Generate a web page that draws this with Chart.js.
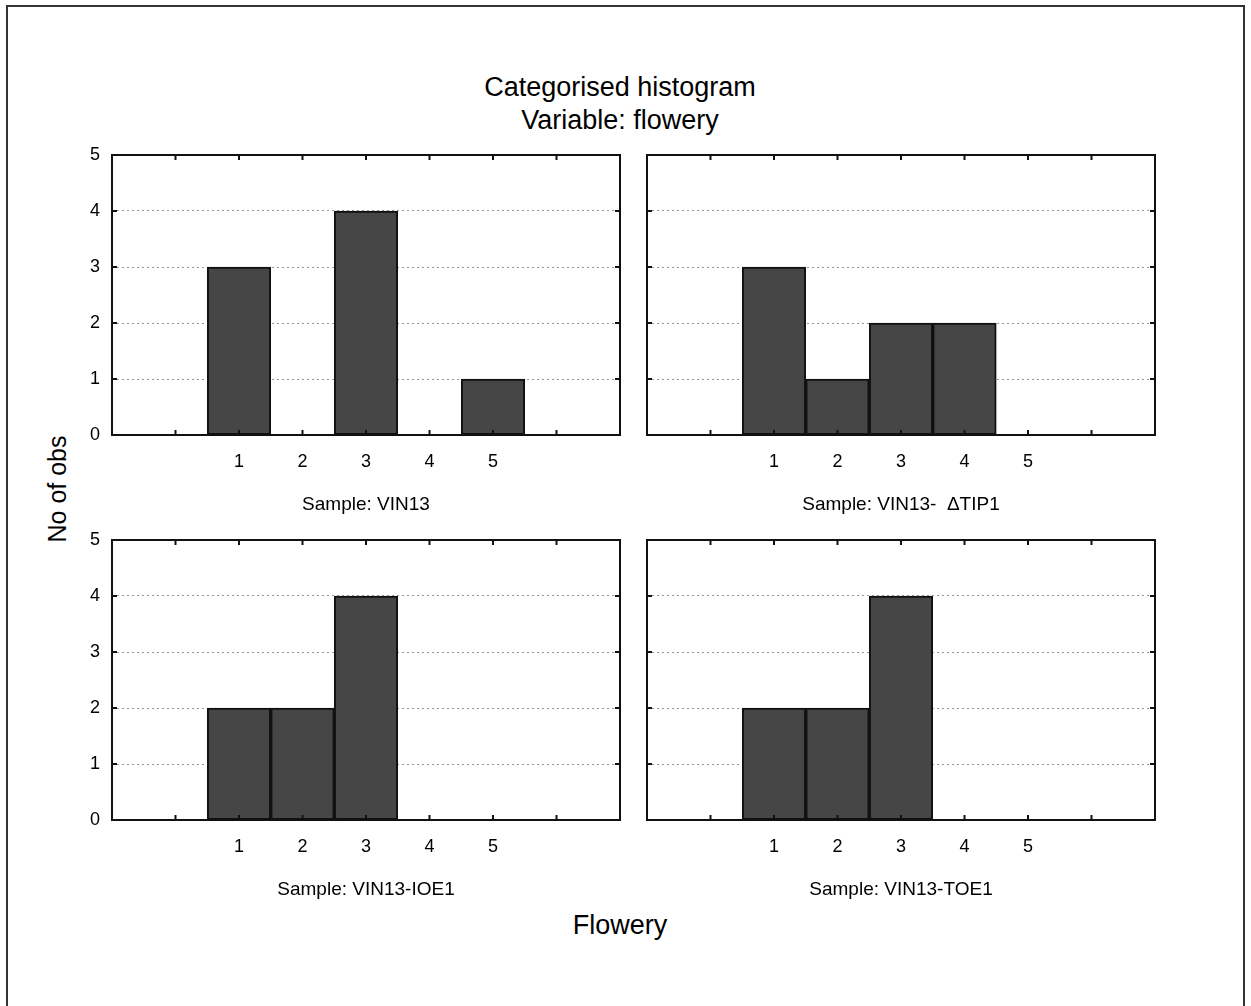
<!DOCTYPE html>
<html>
<head>
<meta charset="utf-8">
<title>Categorised histogram</title>
<script src="https://cdn.jsdelivr.net/npm/chart.js@4/dist/chart.umd.min.js"></script>
<style>
    body {
        margin: 0;
        background: #fff;
        font-family: "Liberation Sans", Arial, sans-serif;
        color: #000;
    }
    #page {
        position: relative;
        width: 1251px;
        height: 1006px;
        overflow: hidden;
    }
    #frame {
        position: absolute;
        left: 6px;
        top: 5px;
        width: 1235px;
        height: 1020px;
        border: 2px solid #333;
    }
    .panel {
        position: absolute;
        width: 568px;
        height: 381px;
    }
    #title {
        position: absolute;
        left: 320px;
        top: 71px;
        width: 600px;
        text-align: center;
        font-size: 27px;
        line-height: 33px;
    }
    #xTitle {
        position: absolute;
        left: 420px;
        top: 910px;
        width: 400px;
        text-align: center;
        font-size: 27px;
    }
    #yTitle {
        position: absolute;
        left: 57px;
        top: 489px;
        transform: translate(-50%, -50%) rotate(-90deg);
        font-size: 25px;
        white-space: nowrap;
    }
</style>
</head>
<body>
<div id="page">
    <div id="frame"></div>
    <div id="title">Categorised histogram<br>Variable: flowery</div>
    <div id="yTitle">No of obs</div>
    <div id="xTitle">Flowery</div>
    <canvas id="p1" class="panel" width="568" height="381" style="left:62px; top:135px;"></canvas>
    <canvas id="p2" class="panel" width="568" height="381" style="left:597px; top:135px;"></canvas>
    <canvas id="p3" class="panel" width="568" height="381" style="left:62px; top:520px;"></canvas>
    <canvas id="p4" class="panel" width="568" height="381" style="left:597px; top:520px;"></canvas>
</div>

<script>
// Flowery score bins and number of observations per bin, one list per sample
const flowerBins = [1, 2, 3, 4, 5];
const vin13 = [3, 0, 4, 0, 1];
const vin13Tip1 = [3, 1, 2, 2, 0];
const vin13Ioe1 = [2, 2, 4, 0, 0];
const vin13Toe1 = [2, 2, 4, 0, 0];

const sampleNames = ['Sample: VIN13', 'Sample: VIN13-  \u0394TIP1', 'Sample: VIN13-IOE1', 'Sample: VIN13-TOE1'];
const yTicks = [0, 1, 2, 3, 4, 5];

const textColor = '#000';
const barColor = '#464646';

// Draws the box round the plot area and the small inward tick marks
const framePlugin = {
    id: 'frameTicks',
    afterDatasetsDraw(chart) {
        const ctx = chart.ctx;
        const area = chart.chartArea;
        const xs = chart.scales.x;
        const ys = chart.scales.y;
        ctx.save();
        ctx.strokeStyle = '#111';
        ctx.lineWidth = 2;
        ctx.strokeRect(area.left, area.top, area.right - area.left, area.bottom - area.top);

        ctx.beginPath();
        xs.ticks.forEach(t => {
            if (t.value <= xs.min || t.value >= xs.max) return;
            const px = xs.getPixelForValue(t.value);
            ctx.moveTo(px, area.bottom);
            ctx.lineTo(px, area.bottom - 5);
            ctx.moveTo(px, area.top);
            ctx.lineTo(px, area.top + 5);
        });
        ys.ticks.forEach(t => {
            if (t.value <= ys.min || t.value >= ys.max) return;
            const py = ys.getPixelForValue(t.value);
            ctx.moveTo(area.left, py);
            ctx.lineTo(area.left + 5, py);
            ctx.moveTo(area.right, py);
            ctx.lineTo(area.right - 5, py);
        });
        ctx.stroke();
        ctx.restore();
    }
};

function makePanel(canvasId, counts, sampleName, showYLabels) {
    const points = flowerBins.map((bin, i) => ({ x: bin, y: counts[i] }));

    new Chart(document.getElementById(canvasId), {
        type: 'bar',
        data: {
            datasets: [{
                data: points,
                backgroundColor: barColor,
                borderColor: '#111',
                borderWidth: 2,
                borderSkipped: false,
                barPercentage: 1,
                categoryPercentage: 1
            }]
        },
        options: {
            responsive: false,
            animation: false,
            layout: {
                padding: { top: 20, right: 10, left: 0, bottom: 0 }
            },
            plugins: {
                legend: { display: false },
                tooltip: { enabled: false }
            },
            scales: {
                x: {
                    type: 'linear',
                    min: -1,
                    max: 7,
                    offset: false,
                    grid: { display: false, drawTicks: false, offset: false },
                    border: { display: false },
                    ticks: {
                        stepSize: 1,
                        padding: 16,
                        color: textColor,
                        font: { family: 'Liberation Sans', size: 18 },
                        callback: v => (v >= flowerBins[0] && v <= flowerBins[flowerBins.length - 1]) ? v : ''
                    },
                    title: {
                        display: true,
                        text: sampleName,
                        color: textColor,
                        padding: 0,
                        font: { family: 'Liberation Sans', size: 19 }
                    },
                    afterFit(scale) {
                        scale.height = 81;
                        scale.paddingLeft = 0;
                        scale.paddingRight = 0;
                    }
                },
                y: {
                    min: yTicks[0],
                    max: yTicks[yTicks.length - 1],
                    grid: {
                        drawTicks: false,
                        lineWidth: 1,
                        color: c => (c.tick.value > 0 && c.tick.value < 5) ? '#999' : 'transparent'
                    },
                    border: { display: false, dash: [2, 3] },
                    ticks: {
                        display: showYLabels,
                        stepSize: 1,
                        padding: 12,
                        color: textColor,
                        font: { family: 'Liberation Sans', size: 18 }
                    },
                    afterFit(scale) {
                        scale.width = 50;
                        scale.paddingTop = 0;
                        scale.paddingBottom = 0;
                    }
                }
            }
        },
        plugins: [framePlugin]
    });
}

makePanel('p1', vin13, sampleNames[0], true);
makePanel('p2', vin13Tip1, sampleNames[1], false);
makePanel('p3', vin13Ioe1, sampleNames[2], true);
makePanel('p4', vin13Toe1, sampleNames[3], false);
</script>
</body>
</html>
